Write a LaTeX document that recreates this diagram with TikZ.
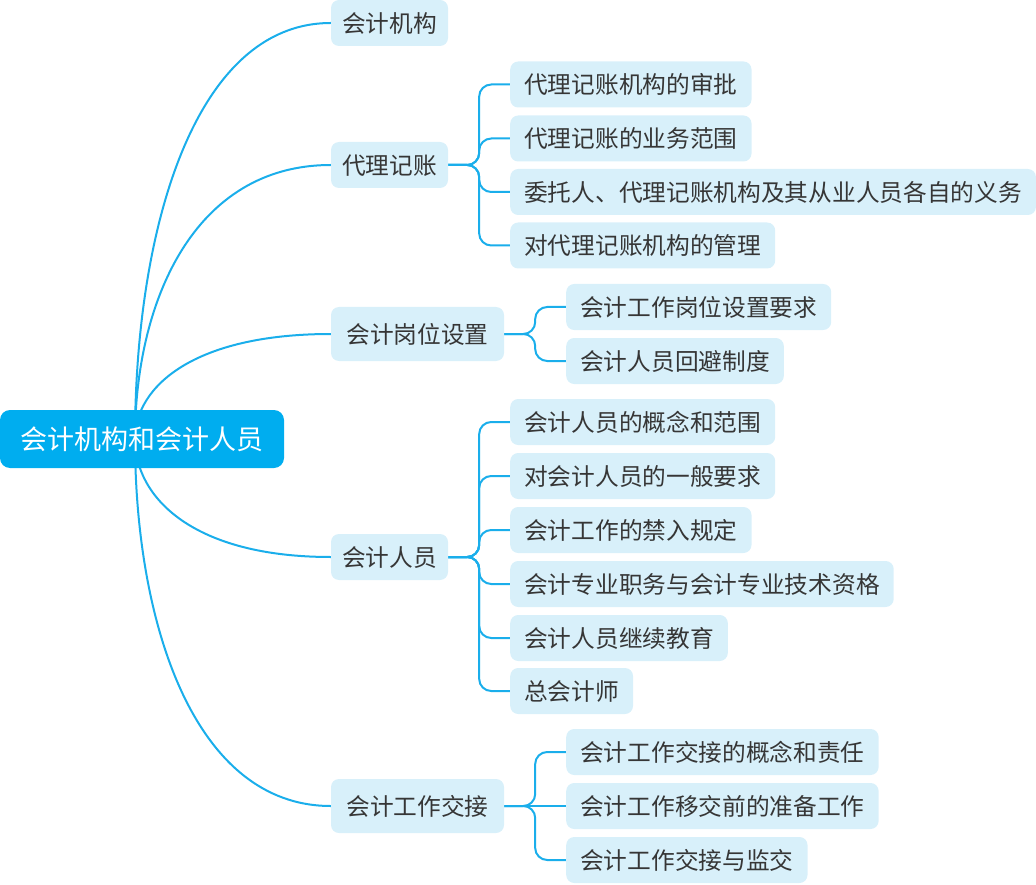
\documentclass[tikz,border=0pt]{standalone}
\usepackage{fontspec}
\setmainfont{Noto Sans CJK SC}
\usetikzlibrary{calc,backgrounds}
\definecolor{rootblue}{HTML}{00ADEF}
\definecolor{boxblue}{HTML}{D8F0FA}
\definecolor{linkblue}{HTML}{1AAEEB}
\definecolor{txtgray}{HTML}{363636}
\begin{document}
\begin{tikzpicture}[x=1pt,y=-1pt,
  rootbox/.style={fill=rootblue, text=white, rounded corners=10pt,
    minimum width=284pt, minimum height=58pt, inner sep=0pt,
    font=\fontsize{27}{32}\selectfont, text height=23.8pt, text depth=3.2pt},
  topicbase/.style={fill=boxblue, text=txtgray, rounded corners=8pt,
    font=\fontsize{23.7}{28}\selectfont, text height=20.9pt, text depth=2.8pt,
    inner ysep=0pt},
  l1short/.style={topicbase, minimum width=117pt, minimum height=46pt, inner xsep=0pt},
  l1long/.style={topicbase, minimum width=173pt, minimum height=54pt, inner xsep=0pt},
  l2box/.style={topicbase, minimum height=46pt, inner xsep=14pt, anchor=west},
  curve/.style={draw=linkblue, line width=2pt},
  elbow/.style={draw=linkblue, line width=2pt, rounded corners=12pt}]
\useasboundingbox (0,0) rectangle (1036,885);

% root and main topics
\node[rootbox] (root) at (142,439) {会计机构和会计人员};
\node[l1short] (a) at (389.5,23) {会计机构};
\node[l1short] (b) at (389.5,165) {代理记账};
\node[l1long]  (c) at (417.5,334) {会计岗位设置};
\node[l1short] (d) at (389.5,557) {会计人员};
\node[l1long]  (e) at (417.5,806) {会计工作交接};

% subtopics
\node[l2box] (b1) at (510,84.5) {代理记账机构的审批};
\node[l2box] (b2) at (510,138.5) {代理记账的业务范围};
\node[l2box] (b3) at (510,192) {委托人、代理记账机构及其从业人员各自的义务};
\node[l2box] (b4) at (510,245.5) {对代理记账机构的管理};

\node[l2box] (c1) at (566,307) {会计工作岗位设置要求};
\node[l2box] (c2) at (566,361) {会计人员回避制度};

\node[l2box] (d1) at (510,422) {会计人员的概念和范围};
\node[l2box] (d2) at (510,476) {对会计人员的一般要求};
\node[l2box] (d3) at (510,530) {会计工作的禁入规定};
\node[l2box] (d4) at (510,584) {会计专业职务与会计专业技术资格};
\node[l2box] (d5) at (510,638) {会计人员继续教育};
\node[l2box] (d6) at (510,691) {总会计师};

\node[l2box] (e1) at (566,752) {会计工作交接的概念和责任};
\node[l2box] (e2) at (566,806) {会计工作移交前的准备工作};
\node[l2box] (e3) at (566,860) {会计工作交接与监交};

\coordinate (hub) at ($(root.center)+(-7,0)$);

\begin{scope}[on background layer]
  \foreach \n in {a,b,c,d,e}
    \draw[curve] (hub) .. controls ($(hub)!0.5!(hub|-\n.west)$) and ($(hub|-\n.west)!0.3!(\n.west)$) .. (\n.west);
  \foreach \k in {b1,b2,b3,b4}
    \draw[elbow] (b.east) -- ++(31,0) |- (\k.west);
  \foreach \k in {c1,c2}
    \draw[elbow] (c.east) -- ++(31,0) |- (\k.west);
  \foreach \k in {d1,d2,d3,d4,d5,d6}
    \draw[elbow] (d.east) -- ++(31,0) |- (\k.west);
  \foreach \k in {e1,e3}
    \draw[elbow] (e.east) -- ++(31,0) |- (\k.west);
  \draw[curve] (e.east) -- (e2.west);
\end{scope}
\end{tikzpicture}
\end{document}
